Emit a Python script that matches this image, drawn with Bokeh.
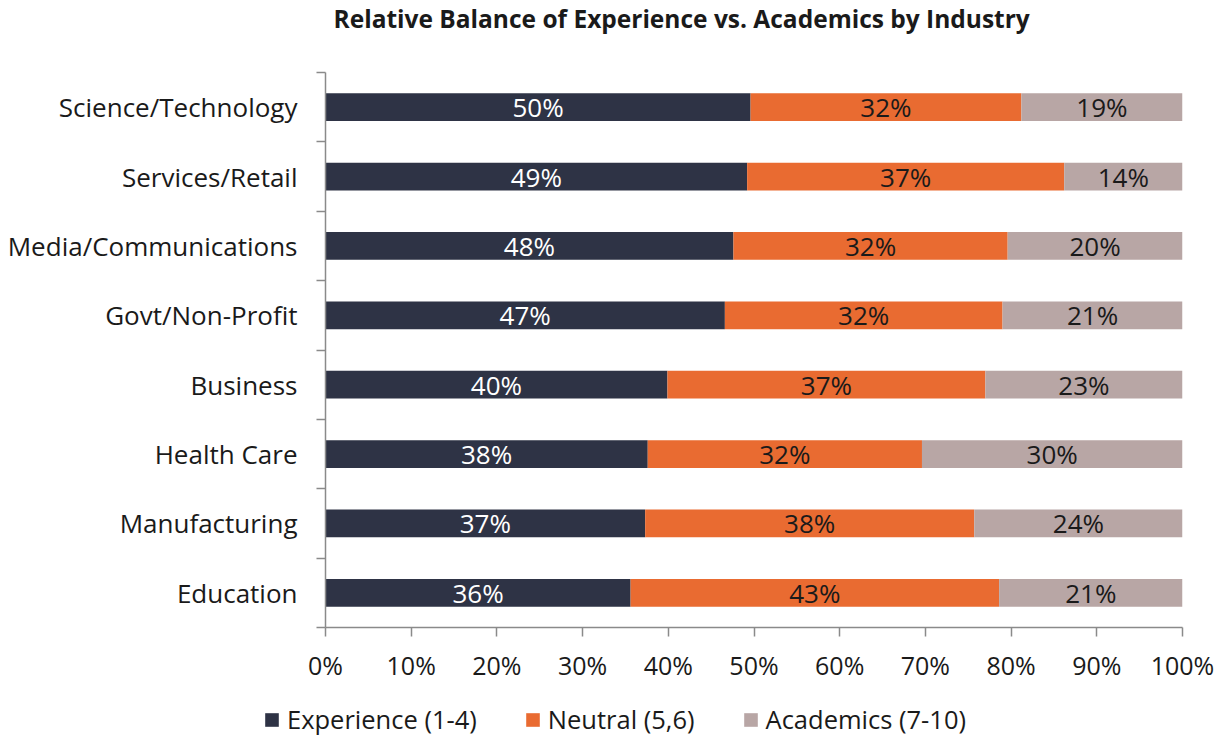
from bokeh.plotting import figure
from bokeh.models import (ColumnDataSource, Range1d, FixedTicker, NumeralTickFormatter,
                          Legend, LegendItem, Label)
from bokeh.layouts import column
from bokeh.embed import file_html
from bokeh.resources import INLINE
from bokeh.core.properties import value

# ---- data (top to bottom) ----
title_text = "Relative Balance of Experience vs. Academics by Industry"
industries = ["Science/Technology", "Services/Retail", "Media/Communications",
              "Govt/Non-Profit", "Business", "Health Care", "Manufacturing", "Education"]
experience = [49.6, 49.2, 47.6, 46.6, 39.9, 37.6, 37.3, 35.6]
neutral = [31.6, 37.0, 32.0, 32.4, 37.1, 32.0, 38.4, 43.0]
academics = [18.8, 13.8, 20.4, 21.0, 23.0, 30.4, 24.3, 21.4]
series_names = ["Experience (1-4)", "Neutral (5,6)", "Academics (7-10)"]
colors = ["#2E3345", "#E96B31", "#B8A6A5"]
label_colors = ["white", "#1a1a1a", "#1a1a1a"]
x_ticks = [i / 10 for i in range(11)]

FONT = "Open Sans"
n = len(industries)
ypos = [n - i - 0.5 for i in range(n)]
W = 1214

# ---- title strip ----
TH = 40
tf = figure(width=W, height=TH, output_backend="svg", toolbar_location=None,
            x_range=Range1d(0, 1), y_range=Range1d(0, 1), min_border=0)
tf.frame_align = False
tf.outline_line_color = None
tf.axis.visible = False
tf.grid.visible = False
tf.add_layout(Label(x=333, y=TH - 18, x_units="screen", y_units="screen",
                    text=title_text, text_font=FONT, text_font_size="24.5px",
                    text_font_style="bold", text_color="#1a1a1a",
                    text_baseline="middle", text_align="left"))

# ---- main chart ----
H = 684 - TH
p = figure(width=W, height=H, output_backend="svg", toolbar_location=None,
           x_range=Range1d(0, 1), y_range=Range1d(0, n),
           min_border_left=325, min_border_right=W - 1182, min_border_top=72 - TH,
           min_border_bottom=684 - 628)
p.frame_align = False
p.outline_line_color = None
p.xgrid.visible = False
p.ygrid.visible = False

series = [experience, neutral, academics]
sources = []
lefts = [0.0] * n
for k, vals in enumerate(series):
    fr = [v / 100 for v in vals]
    rights = [l + f for l, f in zip(lefts, fr)]
    src = ColumnDataSource(dict(
        y=ypos, left=lefts, right=rights,
        mid=[(l + r) / 2 for l, r in zip(lefts, rights)],
        lab=[f"{round(v)}%" for v in vals]))
    sources.append(src)
    p.hbar(y="y", left="left", right="right", height=0.4, source=src,
           fill_color=colors[k], line_color=None)
    p.text(x="mid", y="y", text="lab", source=src, text_align="center",
           text_baseline="middle", text_font=value(FONT), text_font_size="26px",
           text_color=label_colors[k])
    lefts = rights

axis_col = "#8a8a8a"
# x axis
xa = p.xaxis[0]
xa.ticker = FixedTicker(ticks=x_ticks)
xa.formatter = NumeralTickFormatter(format="0%")
xa.axis_line_color = axis_col
xa.axis_line_width = 1.5
xa.major_tick_line_color = axis_col
xa.major_tick_line_width = 1.5
xa.major_tick_in = 0
xa.major_tick_out = 9
xa.minor_tick_line_color = None
xa.major_label_text_font = FONT
xa.major_label_text_font_size = "25px"
xa.major_label_text_color = "#1a1a1a"
xa.major_label_standoff = 11

# y axis
ya = p.yaxis[0]
ya.ticker = FixedTicker(ticks=ypos, minor_ticks=list(range(n + 1)))
ya.major_label_overrides = {y: name for y, name in zip(ypos, industries)}
ya.axis_line_color = axis_col
ya.axis_line_width = 1.5
ya.major_tick_line_color = None
ya.major_tick_in = 0
ya.major_tick_out = 0
ya.minor_tick_line_color = axis_col
ya.minor_tick_line_width = 1.5
ya.minor_tick_in = 0
ya.minor_tick_out = 9
ya.major_label_text_font = FONT
ya.major_label_text_font_size = "26px"
ya.major_label_text_color = "#1a1a1a"
ya.major_label_standoff = 19

# ---- legend strip (hidden copies of the series bars give the swatches) ----
lg = figure(width=W, height=52, output_backend="svg", toolbar_location=None,
            x_range=Range1d(0, 1), y_range=Range1d(-100, -99), min_border=0)
lg.frame_align = False
lg.outline_line_color = None
lg.axis.visible = False
lg.grid.visible = False
items = []
for k, name in enumerate(series_names):
    r = lg.hbar(y="y", left="left", right="right", height=0.4, source=sources[k],
                fill_color=colors[k], line_color=None, visible=False)
    items.append(LegendItem(label=name, renderers=[r]))
legend = Legend(items=items, orientation="horizontal", location=(263, 0),
                label_text_font=FONT, label_text_font_size="25.5px",
                label_text_color="#1a1a1a", glyph_width=17, glyph_height=17,
                label_standoff=7, spacing=47, border_line_color=None,
                background_fill_alpha=0, padding=0, margin=0,
                inactive_fill_alpha=0)
lg.add_layout(legend, "center")

layout = column(tf, p, lg, spacing=0)
open("out.html", "w").write(file_html(layout, INLINE))
